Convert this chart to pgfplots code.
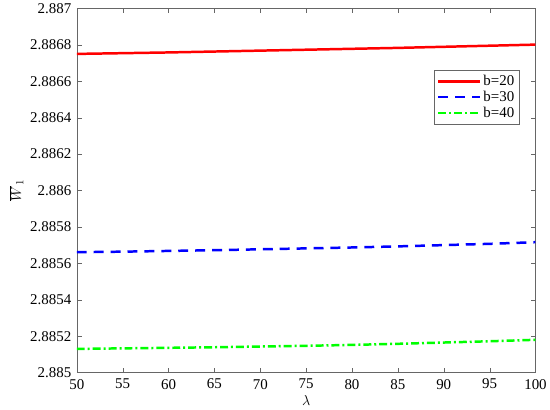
\documentclass[border=0pt]{standalone}
\usepackage{pgfplots}
\pgfplotsset{compat=1.18}
\usepackage{fontspec}
\setmainfont{Liberation Serif}
\begin{document}
\begin{tikzpicture}
\begin{axis}[
    scale only axis,
    width=461pt, height=366pt,
    xmin=50, xmax=100,
    ymin=2.885, ymax=2.887,
    xtick={50,55,...,100},
    ytick={2.885,2.8852,...,2.8871},
    scaled y ticks=false,
    tick align=inside,
    axis line style={black!60},
    tick style={black!60},
    major tick length=5pt,
    yticklabel style={/pgf/number format/fixed,/pgf/number format/precision=4, xshift=-2pt},
    xticklabel style={yshift=-3pt},
    /pgf/number format/assume math mode=true,
    tick label style={font=\rmfamily\fontsize{15}{18}\selectfont},
    xlabel={$\lambda$},
    ylabel={\rule{0pt}{18pt}$\overline{W}_1$},
    label style={font=\fontsize{15}{18}\selectfont},
    legend style={at={(0.965,0.83)}, anchor=north east, draw=black!60,
        font=\rmfamily\fontsize{15}{18}\selectfont, row sep=0pt, inner sep=3pt},
    legend cell align=left,
    legend image code/.code={\draw[#1] (0pt,0pt) -- (42pt,0pt);},
]
\addplot[red, line width=2.5pt] coordinates {
(50,2.886750)(55,2.886754)(60,2.886758)(65,2.886763)(70,2.886768)(75,2.886773)
(80,2.886778)(85,2.886783)(90,2.886789)(95,2.886795)(100,2.886801)};
\addlegendentry{b=20}
\addplot[blue, line width=2.5pt, dash pattern=on 10pt off 7pt] coordinates {
(50,2.885661)(55,2.885664)(60,2.885668)(65,2.885672)(70,2.885677)(75,2.885682)
(80,2.885687)(85,2.885693)(90,2.885700)(95,2.885707)(100,2.885716)};
\addlegendentry{b=30}
\addplot[green, line width=2.5pt, dash pattern=on 8pt off 3pt on 2pt off 3pt] coordinates {
(50,2.885130)(55,2.885133)(60,2.885136)(65,2.885139)(70,2.885143)(75,2.885147)
(80,2.885152)(85,2.885158)(90,2.885165)(95,2.885172)(100,2.885180)};
\addlegendentry{b=40}
\end{axis}
\end{tikzpicture}
\end{document}
